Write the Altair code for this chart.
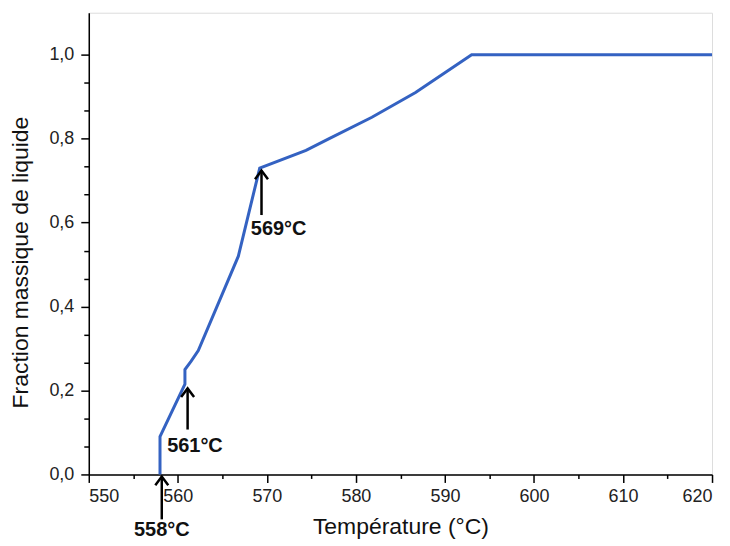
import altair as alt
import pandas as pd

# Curve
temps = [558.0, 558.0, 560.8, 560.8, 561.5, 562.3, 566.8, 569.2, 574.4, 577.0, 581.8, 586.7, 593.0, 620.0]
fractions = [0.0, 0.09, 0.215, 0.25, 0.27, 0.295, 0.52, 0.73, 0.772, 0.80, 0.851, 0.910, 1.0, 1.0]

# Annotations (arrow x, arrow tip y, arrow tail y, label x, label y, label, align)
ann_x = [558.2, 561.1, 569.4]
ann_tip = [-0.005, 0.205, 0.724]
ann_tail = [-0.107, 0.107, 0.618]
lab_x = [558.2, 558.8, 568.2]
lab_y = [-0.133, 0.068, 0.584]
lab_text = ["558°C", "561°C", "569°C"]
lab_align = ["center", "left", "left"]

x_ticks = [550, 555, 560, 565, 570, 575, 580, 585, 590, 595, 600, 605, 610, 615, 620]
y_ticks = [k / 15 for k in range(0, 16)]

curve = pd.DataFrame({"T": temps, "F": fractions, "order": list(range(len(temps)))})
arrows = pd.DataFrame({"x": ann_x, "tip": ann_tip, "tail": ann_tail})
labels = pd.DataFrame({"x": lab_x, "y": lab_y, "text": lab_text, "align": lab_align})

FONT = "Liberation Sans"
MAJOR_Y = "abs(datum.value*5 - round(datum.value*5)) < 0.000001"

xscale = alt.Scale(domain=[550, 620], nice=False, zero=False)
yscale = alt.Scale(domain=[0, 1.1], nice=False, zero=False)

xaxis = alt.Axis(
    values=x_ticks,
    labelExpr="datum.value % 10 == 0 ? datum.label : ''",
    tickSize={"condition": {"test": "datum.value % 10 == 0", "value": 8}, "value": 4},
    labelOverlap=False,
    grid=False,
    domainColor="#000000",
    tickColor="#000000",
    domainWidth=1.5,
    tickWidth=1.5,
    labelFont=FONT,
    labelFontSize=18,
    labelColor="#222222",
    labelPadding=5,
    titleFont=FONT,
    titleFontSize=23,
    titleFontWeight="normal",
    titleColor="#111111",
    titlePadding=10,
)
yaxis = alt.Axis(
    values=y_ticks,
    labelExpr=MAJOR_Y + " ? replace(format(datum.value, '.1f'), '.', ',') : ''",
    tickSize={"condition": {"test": MAJOR_Y, "value": 8}, "value": 5},
    labelOverlap=False,
    grid=False,
    domainColor="#000000",
    tickColor="#000000",
    domainWidth=1.5,
    tickWidth=1.5,
    labelFont=FONT,
    labelFontSize=18,
    labelColor="#222222",
    labelPadding=7,
    titleFont=FONT,
    titleFontSize=23,
    titleFontWeight="normal",
    titleColor="#111111",
    titlePadding=16,
    titleY=250,
)

XT = "Température (°C)"
YT = "Fraction massique de liquide"


def xenc(field):
    return alt.X(field, scale=xscale, axis=xaxis, title=XT)


def yenc(field):
    return alt.Y(field, scale=yscale, axis=yaxis, title=YT)


line = alt.Chart(curve).mark_line(color="#3462c2", strokeWidth=3).encode(
    x=xenc("T:Q"),
    y=yenc("F:Q"),
    order="order:O",
)

shafts = alt.Chart(arrows).mark_rule(color="#000000", strokeWidth=2.5).encode(
    x=xenc("x:Q"), y=yenc("tip:Q"), y2="tail:Q"
)

heads = alt.Chart(arrows).mark_point(
    shape="M-0.75,1L0,0L0.75,1", filled=False, color="#000000", strokeWidth=2.5, size=300, opacity=1
).encode(x=xenc("x:Q"), y=yenc("tip:Q"))

texts_c = alt.Chart(labels[labels["align"] == "center"]).mark_text(
    font=FONT, fontSize=20, fontWeight="bold", color="#111111", align="center", baseline="middle"
).encode(x=xenc("x:Q"), y=yenc("y:Q"), text="text:N")

texts_l = alt.Chart(labels[labels["align"] == "left"]).mark_text(
    font=FONT, fontSize=20, fontWeight="bold", color="#111111", align="left", baseline="middle"
).encode(x=xenc("x:Q"), y=yenc("y:Q"), text="text:N")

chart = alt.layer(line, shafts, heads, texts_c, texts_l).properties(
    width=625,
    height=463,
    autosize=alt.AutoSizeParams(type="none"),
    padding={"left": 81, "top": 4, "right": 10, "bottom": 64},
).configure_view(stroke=None).configure_axis(labelOverlap=False).configure(background="#ffffff")

chart.save("out.html", embed_options={"renderer": "svg", "actions": False})
